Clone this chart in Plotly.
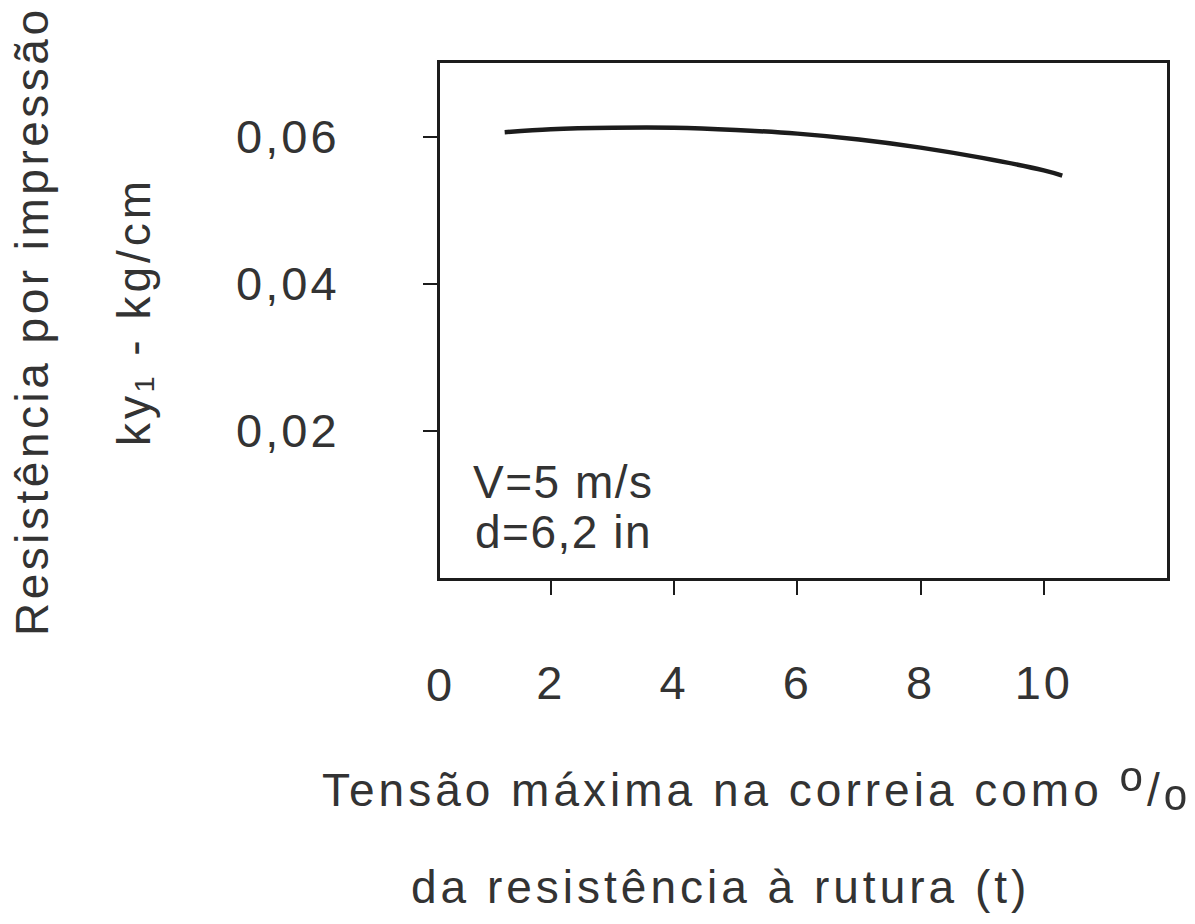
import plotly.graph_objects as go

# Curve: resistance per impression vs. max belt tension (% of breaking strength)
tension_pct = [1.25, 2, 3, 4, 5, 6, 7, 8, 9, 10, 10.3]
resistance = [0.0606, 0.0610, 0.0612, 0.0612, 0.0609, 0.0604, 0.0596, 0.0585, 0.0571, 0.0554, 0.0547]

x_ticks = [2, 4, 6, 8, 10]
y_ticks = [0.02, 0.04, 0.06]
x_range = [0.2, 12.0]
y_range = [0.0, 0.070]

FONT = "Liberation Sans, DejaVu Sans"
TXT = "#333333"
INK = "#1c1c1c"
TEXT_FONT = dict(family=FONT, color=TXT, size=46)
TICK_FONT = dict(family=FONT, color=TXT, size=47)


def spaced(s, px=4):
    return f'<span style="letter-spacing:{px}px">{s}</span>'


W, H = 1195, 924
L, R, T, B = 440, 28, 63, 346
pw, ph = W - L - R, H - T - B


def px_x(p):
    return (p - L) / pw


def px_y(p):
    return (H - B - p) / ph


fig = go.Figure()
fig.add_trace(go.Scatter(
    x=tension_pct, y=resistance, mode="lines",
    line=dict(color=INK, width=4.5, shape="spline", smoothing=1.0),
    hoverinfo="skip", showlegend=False,
))

fig.update_layout(
    width=W, height=H,
    margin=dict(l=L, r=R, t=T, b=B, pad=0),
    paper_bgcolor="white", plot_bgcolor="white",
    separators=",.",
    font=TEXT_FONT,
)

fig.update_xaxes(
    range=x_range, tickvals=x_ticks,
    ticktext=[spaced(str(v), 3) for v in x_ticks],
    showgrid=False, zeroline=False,
    showline=True, linecolor=INK, linewidth=3, mirror=True,
    ticks="outside", ticklen=14, tickwidth=2, tickcolor=INK,
    tickfont=TICK_FONT,
    ticklabelstandoff=48,
)
fig.update_yaxes(
    range=y_range, tickvals=y_ticks,
    ticktext=[spaced(f"{v:.2f}".replace(".", ","), 3) for v in y_ticks],
    showgrid=False, zeroline=False,
    showline=True, linecolor=INK, linewidth=3, mirror=True,
    ticks="outside", ticklen=14, tickwidth=2, tickcolor=INK,
    tickfont=TICK_FONT,
    ticklabelstandoff=74,
)

pct_sign = ('<span style="font-size:62px">ᵒ</span>/'
            '<span style="font-size:62px">ₒ</span>')

ann = []
# origin label
ann.append(dict(x=0, y=px_y(684), xref="paper", yref="paper", text=spaced("0", 3),
                showarrow=False, xanchor="center", yanchor="middle",
                font=TICK_FONT))
# inner notes
ann.append(dict(x=px_x(471), y=px_y(482), xref="paper", yref="paper",
                text=spaced("V=5 m/s", 1.5), showarrow=False,
                xanchor="left", yanchor="middle", font=TEXT_FONT))
ann.append(dict(x=px_x(473), y=px_y(532), xref="paper", yref="paper",
                text=spaced("d=6,2 in", 1.5), showarrow=False,
                xanchor="left", yanchor="middle", font=TEXT_FONT))
# x title (two lines)
ann.append(dict(x=px_x(756), y=px_y(784), xref="paper", yref="paper",
                text=spaced("Tensão máxima na correia como " + pct_sign, 4),
                showarrow=False, xanchor="center", yanchor="middle", font=TEXT_FONT))
ann.append(dict(x=px_x(720), y=px_y(887), xref="paper", yref="paper",
                text=spaced("da resistência à rutura (t)", 4),
                showarrow=False, xanchor="center", yanchor="middle", font=TEXT_FONT))
# y title (two lines)
ann.append(dict(x=px_x(32), y=px_y(321), xref="paper", yref="paper",
                text=spaced("Resistência por impressão", 3.5), textangle=-90,
                showarrow=False, xanchor="center", yanchor="middle", font=TEXT_FONT))
ann.append(dict(x=px_x(134), y=px_y(312), xref="paper", yref="paper",
                text=spaced("ky₁ - kg/cm", 4), textangle=-90,
                showarrow=False, xanchor="center", yanchor="middle", font=TEXT_FONT))

fig.update_layout(annotations=ann)
fig.write_html("out.html")
